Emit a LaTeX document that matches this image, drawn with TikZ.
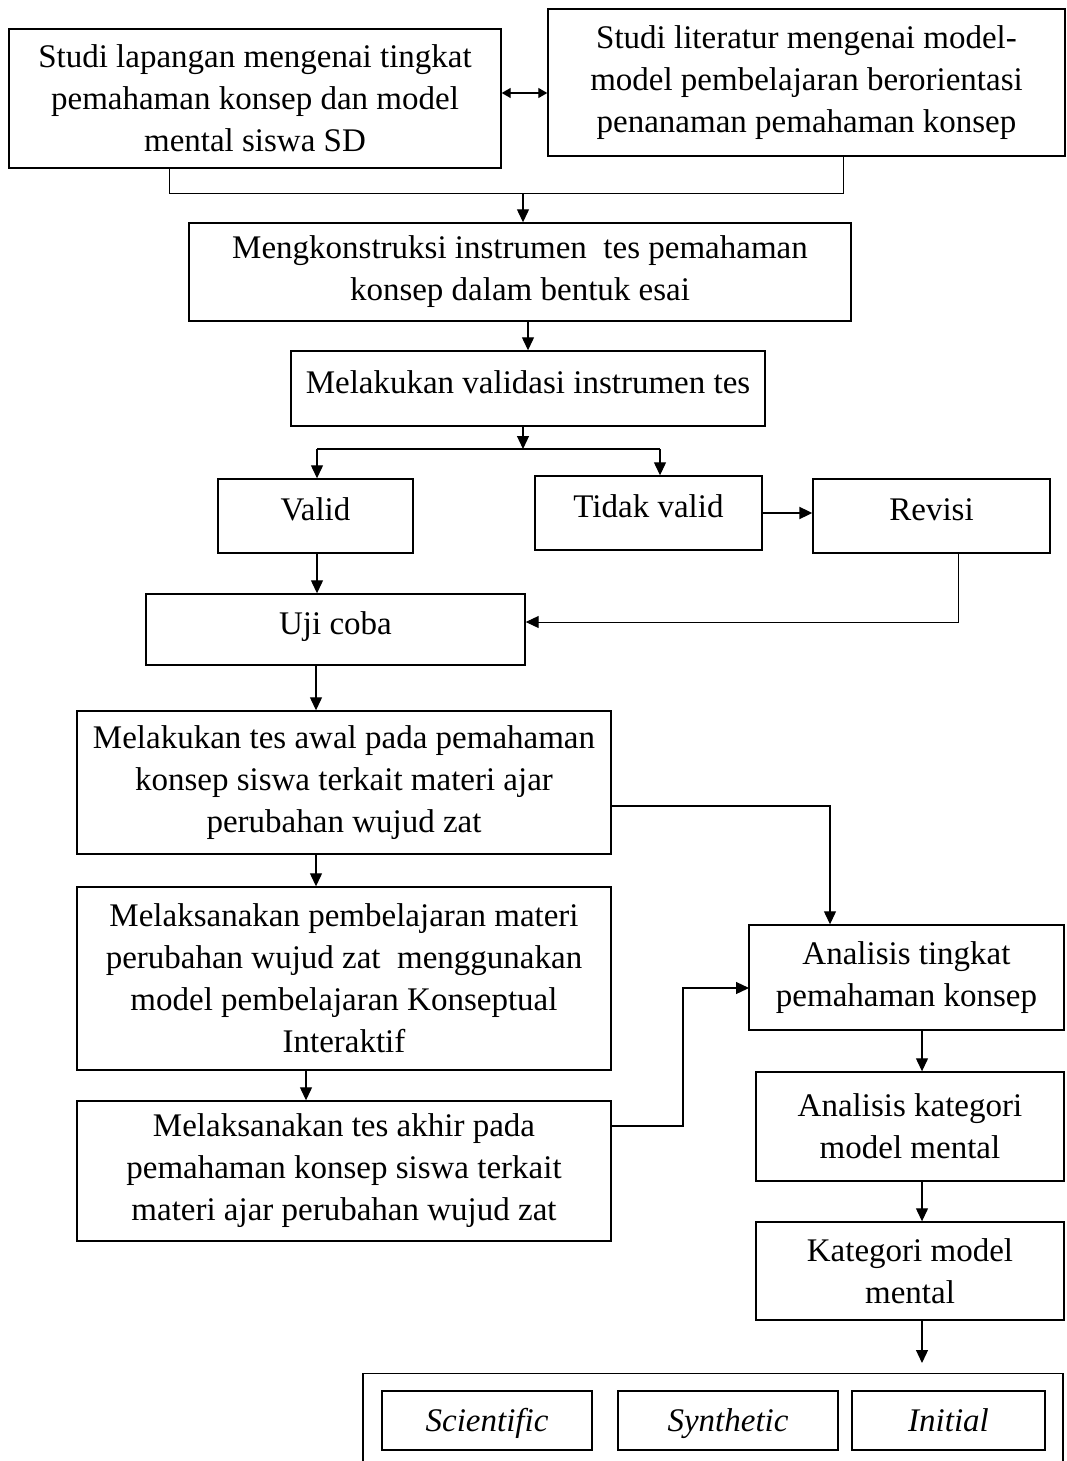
\documentclass[tikz,border=0pt]{standalone}
\usepackage{fontspec}
\setmainfont{Liberation Serif}
\usetikzlibrary{arrows.meta,positioning,calc}

\begin{document}
\begin{tikzpicture}[
x=1pt,
y=-1pt,
font=\fontsize{33}{42}\selectfont,
line width=1.2pt,
box/.style={draw, rectangle, align=center, inner sep=0pt, line width=1.4pt},
oneline/.style={box, text height=24pt, text depth=15pt},
pick/.style={box, minimum height=59pt, text height=24pt, text depth=3pt, font=\fontsize{33}{42}\selectfont\itshape},
arr/.style={-{Triangle[length=13pt,width=12pt]}},
]
\useasboundingbox (0,0) rectangle (1067,1461);
\clip (0,0) rectangle (1067,1461);

% the two studies at the top
\node[box, minimum width=492pt, minimum height=139pt] (studilap) at (255,98.5)
	{Studi lapangan mengenai tingkat\\ pemahaman konsep dan model\\ mental siswa SD};
\node[box, minimum width=517pt, minimum height=147pt] (studilit) at (806.5,82.5)
	{Studi literatur mengenai model-\\ model pembelajaran berorientasi\\ penanaman pemahaman konsep};

% instrument and validation
\node[box, minimum width=662pt, minimum height=98pt] (konstruksi) at (520,272)
	{Mengkonstruksi instrumen\ \ tes pemahaman\\ konsep dalam bentuk esai};
\node[oneline, minimum width=474pt, minimum height=75pt] (validasi) at (528,388.5)
	{Melakukan validasi instrumen tes};
\node[oneline, minimum width=195pt, minimum height=74pt] (valid) at (315.5,516) {Valid};
\node[oneline, minimum width=227pt, minimum height=74pt] (tidak) at (648.5,513) {Tidak valid};
\node[oneline, minimum width=237pt, minimum height=74pt] (revisi) at (931.5,516) {Revisi};
\node[oneline, minimum width=379pt, minimum height=71pt] (ujicoba) at (335.5,629.5) {Uji coba};

% tests and teaching
\node[box, minimum width=534pt, minimum height=143pt] (tesawal) at (344,782.5)
	{Melakukan tes awal pada pemahaman\\ konsep siswa terkait materi ajar\\ perubahan wujud zat};
\node[box, minimum width=534pt, minimum height=183pt] (ajar) at (344,978.5)
	{Melaksanakan pembelajaran materi\\ perubahan wujud zat\ \ menggunakan\\ model pembelajaran Konseptual\\ Interaktif};
\node[box, minimum width=534pt, minimum height=140pt] (tesakhir) at (344,1171)
	{Melaksanakan tes akhir pada\\ pemahaman konsep siswa terkait\\ materi ajar perubahan wujud zat};

% analysis column
\node[box, minimum width=315pt, minimum height=105pt] (anapaham) at (906.5,977.5)
	{Analisis tingkat\\ pemahaman konsep};
\node[box, minimum width=308pt, minimum height=109pt] (anakat) at (910,1126.5)
	{Analisis kategori\\ model mental};
\node[box, minimum width=308pt, minimum height=98pt] (katmodel) at (910,1271)
	{Kategori model\\ mental};

% categories (frame runs past the page bottom)
\node[box, minimum width=700pt, minimum height=130pt, anchor=north] (kategori) at (713,1373) {};
\node[pick, minimum width=210pt] (scientific) at (487,1420.5) {Scientific};
\node[pick, minimum width=220pt] (synthetic) at (728,1420.5) {Synthetic};
\node[pick, minimum width=193pt] (initial) at (948.5,1420.5) {Initial};

% helper points for the bends
\coordinate (ab) at (0,93);
\coordinate (jl) at (169,193);
\coordinate (jr) at (843,193);
\coordinate (jm) at (523,193);
\coordinate (sp) at (523,449);
\coordinate (sl) at (317,449);
\coordinate (sr) at (660,449);
\coordinate (rv) at (958,622);
\coordinate (mid) at (316,0);
\coordinate (eh) at (830,806);
\coordinate (gh) at (683,1126);
\coordinate (hw) at (749,988);
\coordinate (rc) at (922,0);

% connectors
\draw[{Triangle[length=9pt,width=10pt]}-{Triangle[length=9pt,width=10pt]}] (studilap.east |- ab) -- (studilit.west |- ab);
\draw[line width=1pt] (studilap.south -| jl) -- (jl) -- (jr) -- (studilit.south -| jr);
\draw[arr] (jm) -- (konstruksi.north -| jm);
\draw[arr] (konstruksi.south -| validasi) -- (validasi.north);
\draw[arr] (validasi.south -| sp) -- (sp);
\draw (sl) -- (sr);
\draw[arr] (sl) -- (valid.north -| sl);
\draw[arr] (sr) -- (tidak.north -| sr);
\draw[arr, line width=2pt] (tidak.east) -- (tidak.east -| revisi.west);
\draw[arr, line width=1pt] (revisi.south -| rv) -- (rv) -- (ujicoba.east |- rv);
\draw[arr] (valid.south -| sl) -- (ujicoba.north -| sl);
\draw[arr] (ujicoba.south -| mid) -- (tesawal.north -| mid);
\draw[arr] (tesawal.south -| mid) -- (ajar.north -| mid);
\draw[arr] ([xshift=-10pt]ajar.south -| mid) -- ([xshift=-10pt]tesakhir.north -| mid);
\draw[arr] (tesawal.east |- eh) -| (anapaham.north -| eh);
\draw[arr] (tesakhir.east |- gh) -| (hw -| gh) -- (hw);
\draw[arr] (anapaham.south -| rc) -- (anakat.north -| rc);
\draw[arr] (anakat.south -| rc) -- (katmodel.north -| rc);
\draw[arr] (katmodel.south -| rc) -- ([yshift=10pt]kategori.north -| rc);
\end{tikzpicture}
\end{document}
